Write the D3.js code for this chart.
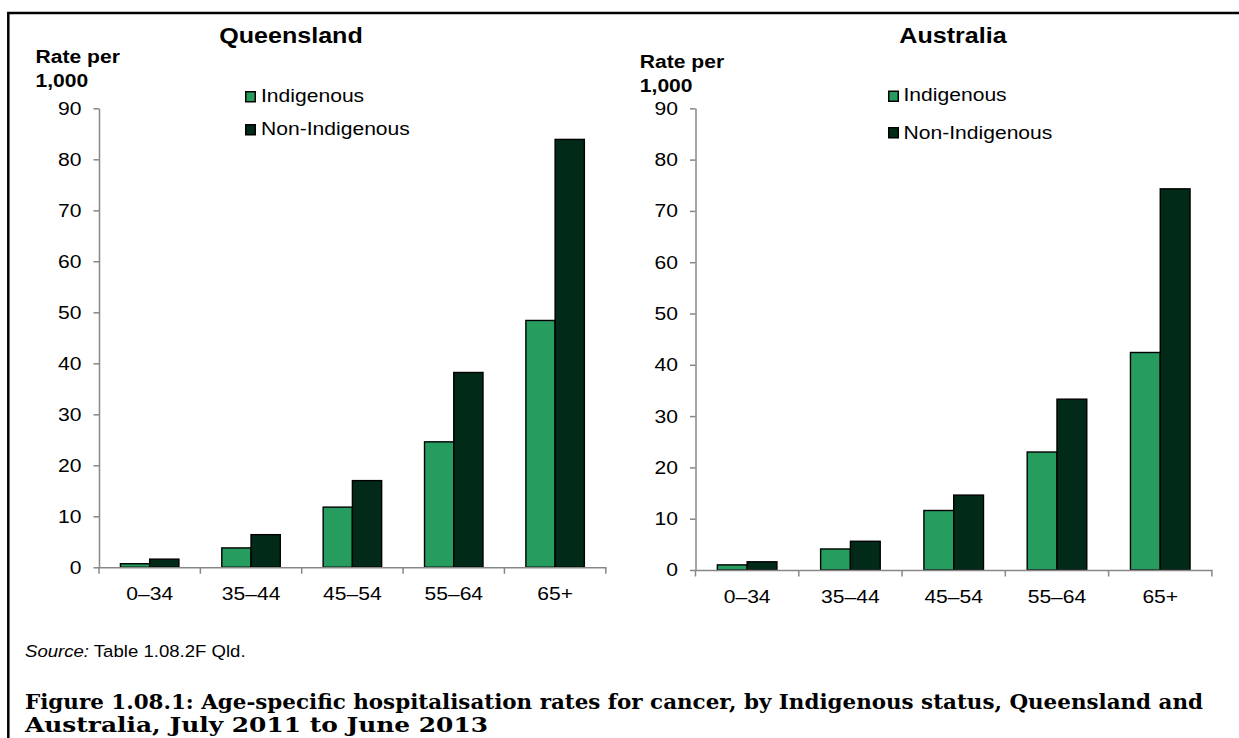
<!DOCTYPE html>
<html>
<head>
<meta charset="utf-8">
<script src="https://cdn.jsdelivr.net/npm/d3@7"></script>
<style>
  html, body { margin: 0; padding: 0; background: #fff; }
  svg { display: block; }
  text { font-family: "Liberation Sans", Arial, sans-serif; fill: #000; }
</style>
</head>
<body>
<svg id="chart" width="1239" height="738"></svg>
<script>
// ---------------- DATA ----------------
const categories = ["0–34", "35–44", "45–54", "55–64", "65+"];
const seriesNames = ["Indigenous", "Non-Indigenous"];
const qldIndigenous = [0.7, 3.8, 11.8, 24.6, 48.4];
const qldNonIndigenous = [1.6, 6.4, 17.0, 38.2, 83.9];
const ausIndigenous = [1.0, 4.1, 11.6, 23.0, 42.4];
const ausNonIndigenous = [1.6, 5.6, 14.6, 33.3, 74.3];
const yTicks = [0, 10, 20, 30, 40, 50, 60, 70, 80, 90];
const panelTitles = ["Queensland", "Australia"];
const yAxisTitle = ["Rate per", "1,000"];
const sourceLabel = "Source:";
const sourceText = " Table 1.08.2F Qld.";
const captionLines = [
  "Figure 1.08.1: Age-specific hospitalisation rates for cancer, by Indigenous status, Queensland and",
  "Australia, July 2011 to June 2013"
];

// ---------------- STYLE / LAYOUT ----------------
const colors = ["#279c5f", "#012a18"];
const axisColor = "#878787";
const SX = 1.14; // horizontal stretch of text as in reference
const fs = 18.5;

const panels = [
  { title: panelTitles[0], values: [qldIndigenous, qldNonIndigenous],
    x0: 99, x1: 605.8, yTop: 108.3, yBottom: 567.3,
    titleX: 291, titleY: 43, rateX: 35.5, rateY: 62.7,
    legX: 245, legY: [91, 124], legTextY: [101.7, 135], legTextX: 261 },
  { title: panelTitles[1], values: [ausIndigenous, ausNonIndigenous],
    x0: 695.5, x1: 1211.9, yTop: 108.3, yBottom: 570,
    titleX: 953, titleY: 43, rateX: 639.8, rateY: 68.3,
    legX: 888, legY: [90.5, 127], legTextY: [101, 139.3], legTextX: 903.5 }
];

const svg = d3.select("#chart");

function stretchText(sel) {
  sel.each(function () {
    const x = +this.getAttribute("x") || 0;
    const y = +this.getAttribute("y") || 0;
    this.setAttribute("x", 0);
    this.setAttribute("y", 0);
    this.setAttribute("transform", `translate(${x},${y}) scale(${SX},1)`);
  });
}

// frame
svg.append("path")
  .attr("d", "M8.3,745 L8.3,13 L1245,13")
  .attr("fill", "none").attr("stroke", "#000").attr("stroke-width", 2.5);

panels.forEach(p => {
  const g = svg.append("g");
  const y = d3.scaleLinear().domain([0, 90]).range([p.yBottom, p.yTop]);
  const x = d3.scaleBand().domain(categories).range([p.x0, p.x1]).padding(0);
  const groupW = x.bandwidth() * 0.577;
  const xs = d3.scaleBand().domain(seriesNames).range([0, groupW]).padding(0);
  const off = (x.bandwidth() - groupW) / 2;

  // bars
  seriesNames.forEach((s, si) => {
    g.append("g").selectAll("rect")
      .data(categories.map((c, i) => ({ c, v: p.values[si][i] })))
      .join("rect")
      .attr("x", d => x(d.c) + off + xs(s))
      .attr("y", d => y(d.v))
      .attr("width", xs.bandwidth())
      .attr("height", d => y(0) - y(d.v))
      .attr("fill", colors[si])
      .attr("stroke", "#000")
      .attr("stroke-width", 1.4);
  });

  // y axis
  const ya = g.append("g")
    .attr("transform", `translate(${p.x0},0)`)
    .call(d3.axisLeft(y).tickValues(yTicks).tickSize(5.5).tickPadding(12).tickSizeOuter(0));
  ya.select(".domain").attr("stroke", axisColor).attr("stroke-width", 1.5);
  ya.selectAll(".tick line").attr("stroke", axisColor).attr("stroke-width", 1.5);
  ya.selectAll("text").attr("font-size", fs).attr("font-family", "Liberation Sans, Arial, sans-serif");
  stretchText(ya.selectAll("text"));

  // x axis: labels at band centres
  const xa = g.append("g")
    .attr("transform", `translate(0,${p.yBottom})`)
    .call(d3.axisBottom(x).tickSize(0).tickPadding(19.5));
  xa.select(".domain").attr("stroke", axisColor).attr("stroke-width", 1.5);
  xa.selectAll("text").attr("font-size", fs).attr("font-family", "Liberation Sans, Arial, sans-serif");
  stretchText(xa.selectAll("text"));
  // x tick marks at category boundaries
  const bounds = categories.map(c => x(c)).concat([x.range()[1]]);
  g.append("g").selectAll("line").data(bounds).join("line")
    .attr("x1", d => d).attr("x2", d => d)
    .attr("y1", p.yBottom).attr("y2", p.yBottom + 6.5)
    .attr("stroke", axisColor).attr("stroke-width", 1.5);

  // title
  g.append("text")
    .attr("x", p.titleX).attr("y", p.titleY)
    .attr("text-anchor", "middle")
    .attr("font-size", 22).attr("font-weight", "bold")
    .text(p.title)
    .call(stretchText);

  // y axis title
  yAxisTitle.forEach((t, i) => {
    g.append("text")
      .attr("x", p.rateX).attr("y", p.rateY + i * 24)
      .attr("font-size", 18.5).attr("font-weight", "bold")
      .text(t)
      .call(stretchText);
  });

  // legend
  seriesNames.forEach((s, si) => {
    g.append("rect")
      .attr("x", p.legX + 0.75).attr("y", p.legY[si] + 0.75)
      .attr("width", 9.5).attr("height", 10)
      .attr("fill", colors[si]).attr("stroke", "#000").attr("stroke-width", 1.5);
    g.append("text")
      .attr("x", p.legTextX).attr("y", p.legTextY[si])
      .attr("font-size", fs)
      .text(s)
      .call(stretchText);
  });
});

// source
const src = svg.append("text")
  .attr("x", 25).attr("y", 656.7)
  .attr("font-size", 16.3);
src.append("tspan").attr("font-style", "italic").text(sourceLabel);
src.append("tspan").text(sourceText);
stretchText(src);

// caption
const capEnds = [1203, 488];
const capBase = [708.5, 732.2];
captionLines.forEach((t, i) => {
  svg.append("text")
    .attr("x", 25).attr("y", capBase[i])
    .attr("font-weight", "bold")
    .attr("font-size", 20)
    .attr("textLength", capEnds[i] - 25)
    .attr("lengthAdjust", "spacingAndGlyphs")
    .style("font-family", "'DejaVu Serif', serif")
    .text(t);
});
</script>
</body>
</html>
